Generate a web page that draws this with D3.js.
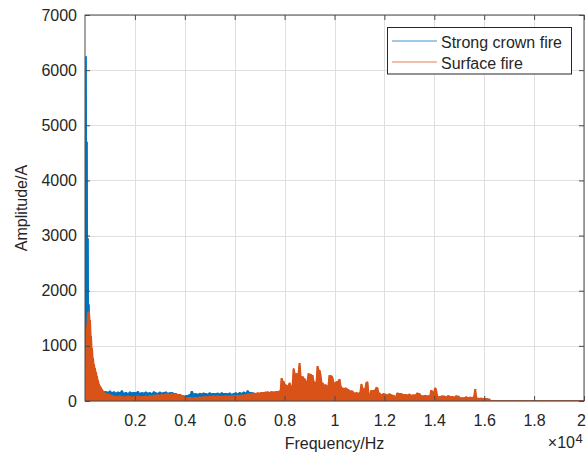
<!DOCTYPE html>
<html>
<head>
<meta charset="utf-8">
<script src="https://cdn.jsdelivr.net/npm/d3@7"></script>
<style>
  body { margin: 0; background: #fff; }
  svg { display: block; }
  text { font-family: "Liberation Sans", Arial, Helvetica, sans-serif; fill: #262626; }
</style>
</head>
<body>
<svg id="chart" width="586" height="459"></svg>
<script>
// Spectrum bins: 20 Hz resolution for 0–780 Hz, 40 Hz resolution from 800 Hz to 20 kHz.
const fineStepHz = 20;
const coarseStartHz = 800;
const coarseStepHz = 40;

const crownFine = [
  3050, 260, 6250, 420, 4700, 350, 2950, 310, 1750, 280,
  1250, 240, 980, 210, 770, 190, 640, 170, 540, 150,
  450, 130, 380, 120, 330, 100, 290, 90, 260, 80,
  240, 70, 220, 65, 200, 60, 185, 55, 175, 50
];

const crownCoarse = [
  60, 178, 45, 165, 70, 186, 50, 160, 40, 172,
  55, 150, 38, 168, 62, 158, 44, 190, 52, 146,
  36, 162, 58, 140, 42, 170, 66, 152, 30, 164,
  48, 156, 40, 176, 60, 144, 34, 160, 54, 150,
  42, 168, 36, 148, 58, 160, 46, 142, 64, 172,
  38, 154, 52, 146, 40, 166, 60, 150, 44, 158,
  56, 170, 42, 148, 62, 156, 36, 162, 50, 144,
  46, 138, 58, 126, 40, 118, 54, 104, 36, 96,
  30, 100, 42, 110, 28, 124, 38, 180, 46, 136,
  34, 140, 52, 128, 40, 146, 30, 134, 48, 150,
  36, 142, 56, 130, 44, 152, 38, 138, 50, 144,
  42, 136, 34, 148, 58, 132, 46, 154, 40, 140,
  52, 146, 38, 134, 60, 150, 44, 128, 48, 142,
  40, 156, 54, 138, 36, 160, 50, 146, 44, 168,
  58, 150, 46, 190, 52, 162, 40, 158, 56, 148,
  44, 132, 50, 124, 38, 128, 46, 118, 40, 122,
  36, 116, 42, 110, 34, 120, 40, 106, 30, 112,
  38, 104, 32, 110, 40, 98, 28, 102, 36, 96,
  10, 46, 6, 38, 14, 52, 8, 40, 12, 44,
  5, 50, 16, 36, 9, 42, 13, 48, 7, 39,
  11, 45, 6, 53, 15, 37, 8, 41, 12, 47,
  7, 40, 14, 49, 5, 35, 10, 46, 9, 43,
  13, 51, 8, 38, 11, 44, 6, 42, 15, 48,
  9, 36, 12, 47, 7, 41, 14, 50, 5, 39,
  10, 45, 8, 37, 13, 52, 6, 43, 11, 40,
  7, 48, 15, 39, 9, 44, 12, 36, 8, 46,
  14, 41, 6, 49, 10, 38, 13, 45, 7, 42,
  11, 37, 9, 47, 5, 43, 12, 40, 8, 50,
  6, 44, 13, 38, 10, 46, 7, 41, 14, 36,
  9, 48, 11, 42, 6, 39, 12, 45, 8, 37,
  10, 43, 7, 40, 13, 35, 9, 46, 6, 38,
  12, 41, 8, 44, 5, 36, 11, 39, 9, 42,
  7, 37, 10, 43, 6, 34, 12, 40, 8, 36,
  9, 38, 6, 33, 11, 41, 7, 35, 10, 32,
  5, 36, 9, 31, 8, 39, 6, 34, 11, 30,
  7, 33, 10, 29, 6, 35, 8, 28, 9, 31,
  6, 27, 8, 32, 5, 26, 9, 30, 7, 25,
  8, 29, 5, 24, 7, 28, 6, 23, 9, 26,
  5, 22, 7, 18, 4,
  3, 5, 2, 4, 3, 6, 2, 4, 3, 5,
  2, 4, 3, 5, 2, 3, 4, 2, 5, 3,
  4, 2, 3, 5, 2, 4, 3, 2, 4, 3,
  5, 2, 4, 3, 2, 5, 3, 4, 2, 3,
  4, 3, 2, 5, 3, 2, 4, 3, 5, 2,
  3, 4, 2, 3, 5, 2, 4, 3, 2, 4,
  3, 2, 5, 3, 4, 2, 3, 4, 2, 5,
  2, 3, 4, 2, 3, 5, 2, 4, 3, 2,
  4, 3, 2, 5, 3, 4, 2, 3, 4, 2,
  3, 5, 2, 4, 3, 2
];

const surfaceFine = [
  80, 700, 210, 1350, 330, 1600, 290, 1620, 410, 1595,
  360, 1460, 280, 1180, 240, 950, 200, 780, 170, 660,
  150, 590, 120, 520, 110, 450, 90, 370, 80, 310,
  70, 270, 60, 240, 55, 210, 45, 175, 40, 155
];

const surfaceCoarse = [
  30, 140, 25, 130, 35, 118, 20, 105, 30, 96,
  22, 92, 18, 84, 30, 98, 15, 76, 26, 88,
  20, 80, 34, 95, 12, 86, 28, 72, 19, 90,
  25, 84, 16, 100, 30, 78, 22, 92, 14, 86,
  28, 94, 20, 88, 32, 104, 18, 96, 26, 110,
  30, 112, 24, 120, 36, 108, 28, 126, 40, 118,
  32, 130, 26, 138, 44, 124, 30, 142, 38, 128,
  34, 134, 28, 120, 40, 126, 22, 110, 30, 96,
  18, 70, 12, 62, 24, 74, 16, 58, 20, 66,
  14, 72, 22, 64, 18, 80, 26, 70, 20, 84,
  24, 88, 30, 80, 22, 94, 28, 86, 34, 98,
  26, 90, 32, 102, 20, 84, 30, 96, 36, 92,
  28, 100, 24, 88, 34, 104, 30, 96, 22, 108,
  32, 98, 38, 112, 26, 104, 34, 116, 40, 110,
  20, 124, 28, 132, 18, 140, 30, 136, 24, 148,
  26, 142, 20, 156, 32, 150, 22, 162, 28, 158,
  24, 168, 34, 172, 18, 164, 30, 176, 26, 170,
  22, 178, 30, 182, 18, 186, 40, 415, 35, 360,
  28, 300, 45, 280, 20, 330, 38, 270, 26, 590,
  32, 380, 505, 24, 300, 690, 40, 320, 450, 30,
  410, 26, 360, 48, 505, 20, 490, 36, 470, 44,
  350, 30, 340, 635, 22, 560, 470, 34, 330, 300,
  28, 300, 250, 42, 280, 470, 26, 460, 420, 38,
  330, 24, 350, 360, 40, 400, 280, 30, 240, 220,
  26, 240, 230, 35, 210, 170, 22, 190, 180, 30,
  150, 28, 160, 140, 40, 150, 170, 310, 25, 190,
  230, 30, 340, 350, 36, 130, 24, 200, 32, 190,
  200, 26, 250, 240, 34, 150, 20, 120, 30, 140,
  60, 130, 45, 115, 60, 135, 40, 120, 55, 110,
  35, 90, 50, 150, 40, 145, 55, 140, 45, 120,
  40, 125, 55, 115, 35, 130, 50, 110, 45, 120,
  38, 118, 50, 150, 42, 140, 30, 105, 48, 100,
  36, 110, 44, 98, 30, 104, 50, 200, 40, 170,
  60, 240, 180, 40, 80, 30, 90, 45, 100, 35,
  95, 30, 80, 40, 105, 25, 85, 35, 90, 30,
  78, 28, 100, 35, 95, 22, 70, 30, 65, 20,
  70, 25, 80, 30, 62, 20, 75, 28, 68, 24,
  85, 218, 40, 60, 20, 55, 25, 58, 18, 52,
  22, 56, 20, 50, 15, 40,
  6, 3, 8, 4, 5, 2, 7, 3, 6, 4,
  5, 3, 7, 2, 6, 4, 5, 3, 8, 2,
  6, 4, 5, 3, 7, 2, 6, 3, 5, 4,
  7, 3, 6, 2, 5, 4, 6, 3, 7, 2,
  5, 4, 6, 3, 8, 2, 5, 3, 6, 4,
  7, 2, 5, 3, 6, 4, 5, 2, 7, 3,
  6, 4, 5, 3, 7, 2, 6, 3, 5, 4,
  6, 3, 7, 2, 5, 4, 6, 3, 5, 2,
  7, 4, 6, 3, 5, 2, 6, 4, 5, 3,
  6, 2, 5, 4, 7
];

const seriesNames = ["Strong crown fire", "Surface fire"];
const seriesColors = ["#0072BD", "#D95319"];

const xTicks = [2000, 4000, 6000, 8000, 10000, 12000, 14000, 16000, 18000, 20000];
const xTickLabels = ["0.2", "0.4", "0.6", "0.8", "1", "1.2", "1.4", "1.6", "1.8", "2"];
const yTicks = [0, 1000, 2000, 3000, 4000, 5000, 6000, 7000];

const xLabel = "Frequency/Hz";
const yLabel = "Amplitude/A";

// Layout
const plot = { left: 85, right: 584, top: 15, bottom: 401 };

const svg = d3.select("#chart");

const x = d3.scaleLinear().domain([0, 20000]).range([plot.left, plot.right]);
const y = d3.scaleLinear().domain([0, 7000]).range([plot.bottom, plot.top]);

function toPoints(fine, coarse) {
  const pts = fine.map((a, k) => [k * fineStepHz, a]);
  coarse.forEach((a, j) => pts.push([coarseStartHz + j * coarseStepHz, a]));
  return pts;
}
const series = [toPoints(crownFine, crownCoarse), toPoints(surfaceFine, surfaceCoarse)];

// Upper hull of adjacent bins: the rapidly oscillating trace covers everything
// beneath its local peaks, so the band under it is shaded up to that hull.
function hull(pts) {
  return pts.map((p, i) => [p[0], Math.max(
    p[1],
    i > 0 ? pts[i - 1][1] : 0,
    i < pts.length - 1 ? pts[i + 1][1] : 0)]);
}

// Grid
const grid = svg.append("g").attr("stroke", "#dfdfdf").attr("stroke-width", 1);
xTicks.forEach(t => grid.append("line")
  .attr("x1", Math.round(x(t)) + 0.5).attr("x2", Math.round(x(t)) + 0.5)
  .attr("y1", plot.top).attr("y2", plot.bottom));
yTicks.forEach(t => grid.append("line")
  .attr("x1", plot.left).attr("x2", plot.right)
  .attr("y1", Math.round(y(t)) + 0.5).attr("y2", Math.round(y(t)) + 0.5));

// Spectra
svg.append("clipPath").attr("id", "plotClip").append("rect")
  .attr("x", plot.left).attr("y", plot.top - 1)
  .attr("width", plot.right - plot.left).attr("height", plot.bottom - plot.top + 1);

const line = d3.line().x(d => x(d[0])).y(d => y(d[1]));
const area = d3.area().x(d => x(d[0])).y0(y(0)).y1(d => y(d[1]));
const lines = svg.append("g").attr("clip-path", "url(#plotClip)");
series.forEach((pts, i) => {
  lines.append("path")
    .attr("d", area(hull(pts)))
    .attr("fill", seriesColors[i])
    .attr("stroke", "none");
  lines.append("path")
    .attr("d", line(pts))
    .attr("fill", "none")
    .attr("stroke", seriesColors[i])
    .attr("stroke-width", 1)
    .attr("stroke-linejoin", "round");
});

// Axes: ticks point inward on all four sides, box drawn around the plot
const axisColor = "#4a4a4a";
const xb = svg.append("g").attr("transform", `translate(0,${plot.bottom})`)
  .call(d3.axisBottom(x).tickValues(xTicks).tickSize(-5).tickPadding(14)
    .tickFormat((d, i) => xTickLabels[i]));
const xt = svg.append("g").attr("transform", `translate(0,${plot.top})`)
  .call(d3.axisTop(x).tickValues(xTicks).tickSize(-5).tickFormat(""));
const yl = svg.append("g").attr("transform", `translate(${plot.left},0)`)
  .call(d3.axisLeft(y).tickValues(yTicks).tickSize(-5).tickPadding(8).tickFormat(d3.format("d")));
const yr = svg.append("g").attr("transform", `translate(${plot.right},0)`)
  .call(d3.axisRight(y).tickValues(yTicks).tickSize(-5).tickFormat(""));

[xb, xt, yl, yr].forEach(g => {
  g.select(".domain").remove();
  g.selectAll(".tick line").attr("stroke", axisColor);
  g.selectAll("text").attr("font-size", 16).attr("fill", "#262626")
    .style("font-family", '"Liberation Sans", Arial, sans-serif');
});
// The last frequency label sits at the right edge of the figure
xb.selectAll(".tick text").filter(d => d === 20000)
  .attr("text-anchor", "end").attr("x", 1.5);

svg.append("rect")
  .attr("x", plot.left).attr("y", plot.top)
  .attr("width", plot.right - plot.left).attr("height", plot.bottom - plot.top)
  .attr("fill", "none").attr("stroke", axisColor).attr("stroke-width", 1);

// Axis labels
svg.append("text")
  .attr("x", (plot.left + plot.right) / 2).attr("y", 449)
  .attr("text-anchor", "middle").attr("font-size", 16)
  .text(xLabel);

svg.append("text")
  .attr("transform", `translate(27,${(plot.top + plot.bottom) / 2}) rotate(-90)`)
  .attr("text-anchor", "middle").attr("font-size", 16)
  .text(yLabel);

// Exponent for the frequency axis
svg.append("text").attr("x", 575).attr("y", 448)
  .attr("text-anchor", "end").attr("font-size", 16).text("\u00d710");
svg.append("text").attr("x", 575.5).attr("y", 443)
  .attr("font-size", 13).text("4");

// Legend
const legend = svg.append("g");
legend.append("rect")
  .attr("x", 387.5).attr("y", 27.5).attr("width", 184).attr("height", 46.5)
  .attr("fill", "#fff").attr("stroke", "#262626").attr("stroke-width", 1);
seriesNames.forEach((name, i) => {
  const cy = 41 + i * 21;
  legend.append("line")
    .attr("x1", 392).attr("x2", 437).attr("y1", cy).attr("y2", cy)
    .attr("stroke", seriesColors[i]).attr("stroke-width", 1).attr("stroke-opacity", 0.75);
  legend.append("text")
    .attr("x", 441).attr("y", cy + 6.5).attr("font-size", 16)
    .text(name);
});
</script>
</body>
</html>
